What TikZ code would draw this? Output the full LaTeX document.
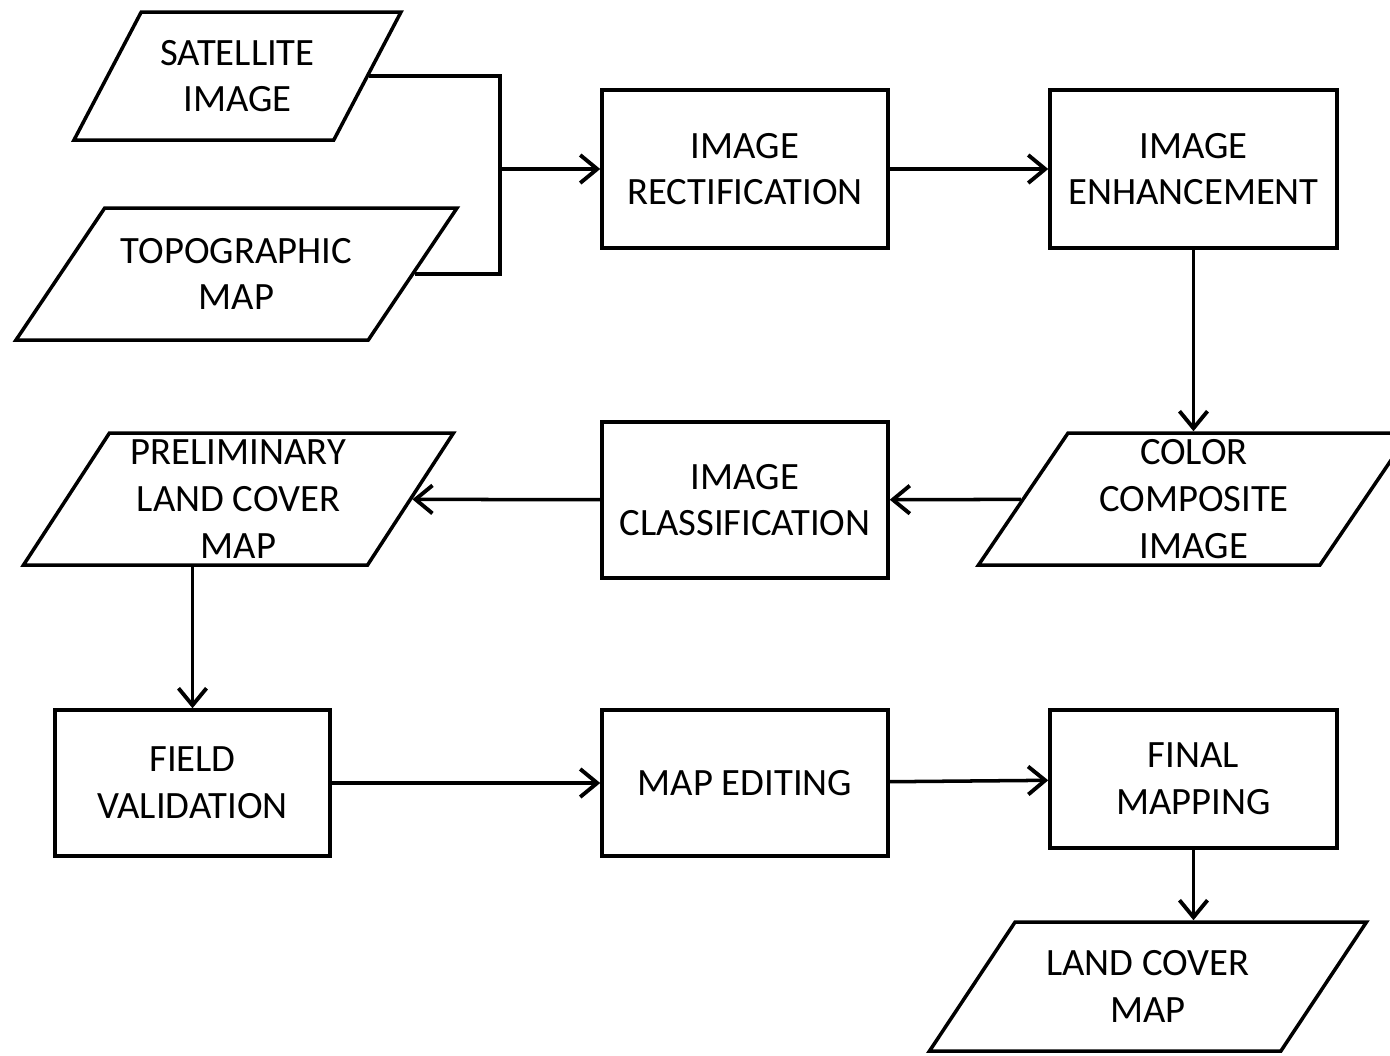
\documentclass[tikz,border=0pt]{standalone}
\usepackage{fontspec}
\setmainfont{Carlito}
\usepackage{tikz}
\usetikzlibrary{shapes.geometric,arrows.meta}
\tikzset{
  procbox/.style={rectangle, draw, line width=1pt, align=center, inner sep=0pt,
    minimum width=2.86cm, minimum height=1.58cm},
  iobox/.style={trapezium, trapezium left angle=54, trapezium right angle=126,
    trapezium stretches body, draw, line width=1pt, align=center, inner sep=0pt,
    minimum height=1.32cm},
  flow/.style={line width=1pt, -{Straight Barb[length=1.7mm,width=2.8mm,line width=1.1pt]}}
}
\newcommand{\procnode}[4][]{\node [procbox,#1] at (#2) (#3) {#4};}
\newcommand{\datanode}[4][]{\node [iobox,#1] at (#2) (#3) {#4};}
\newcommand{\flowarrow}[2]{\draw [flow] (#1) -- (#2);}

\begin{document}
\begin{tikzpicture}[font=\fontsize{11}{13.3}\selectfont]
\useasboundingbox (0,0) rectangle (13.9,-10.55);

% inputs
\datanode[trapezium left angle=47, trapezium right angle=133, minimum height=1.28cm, minimum width=3.27cm]{2.375,-0.76}{sat}{SATELLITE\\IMAGE};
\datanode[trapezium left angle=39, trapezium right angle=141, minimum width=4.41cm]{2.365,-2.74}{topo}{TOPOGRAPHIC\\MAP};

% processing chain
\procnode{7.45,-1.69}{rect}{IMAGE\\RECTIFICATION};
\procnode[minimum width=2.87cm]{11.935,-1.69}{enh}{IMAGE\\ENHANCEMENT};
\datanode[trapezium left angle=53, trapezium right angle=127, minimum width=4.31cm]{11.94,-4.99}{color}{COLOR\\COMPOSITE\\IMAGE};
\procnode[minimum height=1.56cm]{7.45,-5.00}{classif}{IMAGE\\CLASSIFICATION};
\datanode[minimum width=4.30cm]{2.385,-4.99}{prelim}{PRELIMINARY\\LAND COVER\\MAP};
\procnode[minimum width=2.75cm, minimum height=1.46cm]{1.925,-7.83}{field}{FIELD\\VALIDATION};
\procnode[minimum height=1.46cm]{7.45,-7.83}{mapedit}{MAP EDITING};
\procnode[minimum width=2.87cm, minimum height=1.38cm]{11.935,-7.79}{final}{FINAL\\MAPPING};
\datanode[trapezium left angle=40, trapezium right angle=140, minimum height=1.29cm, minimum width=4.37cm]{11.48,-9.865}{landcover}{LAND COVER\\MAP};

% connectors
\coordinate (join) at (5.0,-1.69);
\draw [line width=1pt] (sat.east) -| (join) |- (topo.east);
\flowarrow{join}{rect}
\flowarrow{rect}{enh}
\flowarrow{enh.south}{enh.south |- color.north}
\flowarrow{color}{classif}
\flowarrow{classif}{prelim}
\flowarrow{prelim.south -| field.north}{field.north}
\flowarrow{field}{mapedit}
\flowarrow{mapedit}{final}
\flowarrow{final.south}{final.south |- landcover.north}

\end{tikzpicture}
\end{document}
